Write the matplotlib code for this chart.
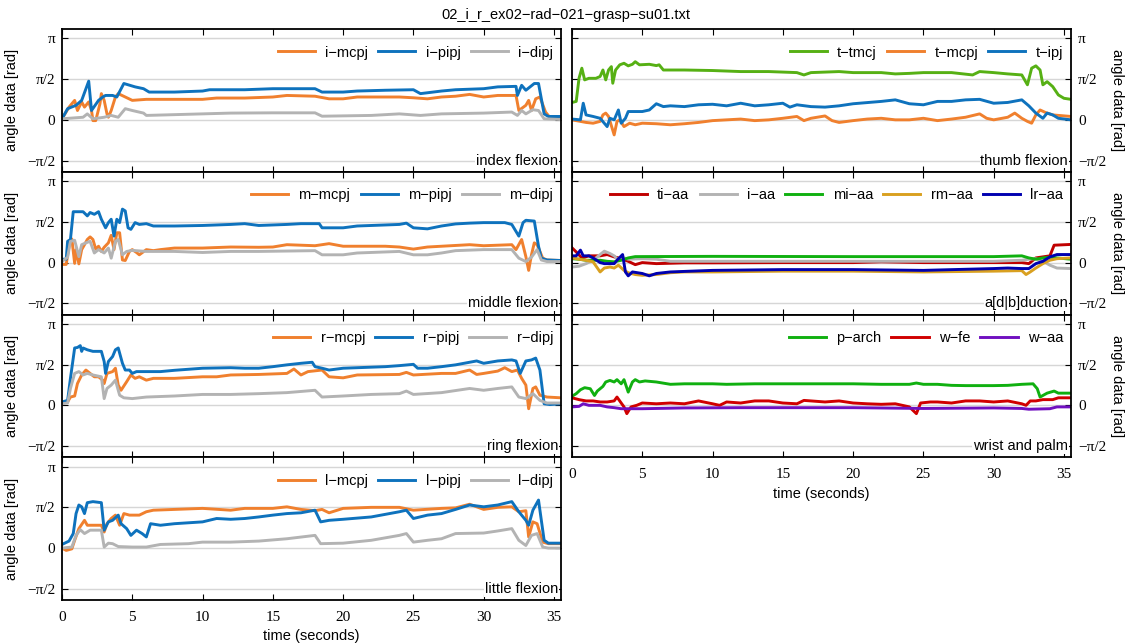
"""
Hand joint angles over time for one grasp recording, seven panels:
four finger flexion panels on the left, thumb / ab-adduction / wrist on the right.
"""

import numpy as np
import matplotlib
matplotlib.use("Agg")
import matplotlib.pyplot as plt
import matplotlib.transforms as mtransforms

TITLE = "02_i_r_ex02\u2212rad\u2212021\u2212grasp\u2212su01.txt"

# ---- index flexion -------------------------------------------------------
T_I_MCPJ = [0, 0.5, 0.9, 1.1, 1.4, 1.6, 1.9, 2.1, 2.2, 2.4, 2.7, 2.8, 3.0, 3.2, 3.3, 3.5, 3.8, 4.0, 4.5, 5, 6, 8,
            10, 11, 13, 15, 16, 18, 19, 20, 21, 24, 25, 26, 27, 28, 29, 30, 31, 32.3, 32.5, 33, 33.2, 33.4, 33.7,
            34, 34.4, 34.7, 35.5]
I_MCPJ = [0.04, 0.49, 0.75, 0.36, 0.69, 0.49, 0.69, 0.36, -0.03, -0.03, 0.62, 1.01, 0.75, 0.23, 0.10, 0.36, 0.88,
          1.01, 0.88, 0.75, 0.79, 0.79, 0.79, 0.84, 0.84, 0.88, 0.94, 0.91, 0.81, 0.81, 0.88, 0.88, 0.85, 0.81, 0.88,
          0.91, 0.98, 0.88, 0.94, 0.94, 0.36, 0.56, 0.75, 0.36, 0.81, 0.88, 0.30, 0.10, 0.10]
T_I_PIPJ = [0, 0.4, 1.0, 1.4, 1.9, 2.1, 2.6, 2.9, 3.1, 3.6, 3.9, 4.4, 5.2, 5.8, 6.2, 8, 10, 10.5, 13, 15, 18, 18.5,
            20, 21, 23, 25, 25.5, 27, 28, 30, 31, 32.3, 32.4, 32.7, 33, 33.6, 33.9, 34.3, 34.6, 35.5]
I_PIPJ = [0.04, 0.43, 0.56, 0.75, 1.49, 0.36, 0.75, 0.88, 0.94, 0.94, 0.88, 1.40, 1.27, 1.20, 1.07, 1.07, 1.11,
          1.16, 1.16, 1.20, 1.20, 1.07, 1.07, 1.11, 1.14, 1.16, 1.01, 1.11, 1.16, 1.20, 1.27, 1.29, 0.94, 1.33, 1.14,
          1.40, 1.40, 0.23, 0.13, 0.13]
T_I_DIPJ = [0, 1.5, 1.8, 2.2, 3, 3.5, 4, 4.5, 5, 5.8, 6, 10, 12, 15, 18, 18.5, 22, 24, 25.5, 27, 30, 32, 32.4, 32.7,
            33, 33.5, 33.9, 34.3, 35.5]
I_DIPJ = [0.04, 0.10, 0.23, 0.04, 0.10, 0.17, 0.10, 0.43, 0.36, 0.26, 0.17, 0.23, 0.26, 0.27, 0.27, 0.14, 0.17, 0.23,
          0.17, 0.23, 0.26, 0.30, 0.17, 0.36, 0.23, 0.39, 0.36, 0.04, 0.01]

# ---- middle flexion ------------------------------------------------------
T_M_MCPJ = [0, 0.3, 0.5, 0.7, 0.9, 1.0, 1.2, 1.4, 1.6, 1.8, 2.0, 2.2, 2.4, 2.6, 2.8, 3.0, 3.3, 3.5, 3.7, 3.9, 4.1,
            4.3, 4.5, 4.8, 5, 5.3, 5.5, 6, 6.5, 7, 8, 10, 12, 14, 15, 16, 18, 19, 20, 23, 24, 25, 26, 27, 29, 30, 32,
            32.3, 32.7, 33, 33.2, 33.4, 33.6, 33.8, 34.2, 34.5, 35.5]
M_MCPJ = [-0.07, -0.07, 0.63, 0.91, -0.03, 0.50, -0.05, 0.50, 0.69, 0.89, 0.99, 0.89, 0.52, 0.63, 0.43, 0.59, 0.76,
          1.05, 0.50, 1.15, 1.15, 0.10, 0.08, 0.43, 0.50, 0.39, 0.30, 0.50, 0.46, 0.50, 0.56, 0.56, 0.60, 0.59, 0.60,
          0.69, 0.65, 0.73, 0.63, 0.63, 0.60, 0.52, 0.60, 0.63, 0.69, 0.65, 0.69, 0.50, 0.89, 0.23, -0.30, 0.30,
          0.76, 0.69, 0.17, 0.10, 0.08]
T_M_PIPJ = [0, 0.3, 0.4, 0.6, 0.8, 1.5, 1.8, 2.0, 2.3, 2.6, 2.8, 3.1, 3.3, 3.5, 3.7, 3.9, 4.1, 4.3, 4.5, 4.7, 4.9,
            5.2, 5.5, 6, 6.5, 8, 10, 12, 13, 14, 16, 17, 18.3, 18.5, 20, 21, 24, 24.5, 25, 26, 27, 28, 29, 30, 31.5,
            32, 32.5, 32.8, 33, 33.6, 33.9, 34.1, 34.5, 35.5]
M_PIPJ = [0.13, 0.13, 0.82, 0.89, 1.96, 1.96, 1.80, 1.93, 1.86, 1.96, 1.67, 1.34, 1.54, 1.67, 1.02, 1.67, 1.54,
          2.06, 1.99, 1.34, 1.28, 1.54, 1.47, 1.50, 1.41, 1.41, 1.43, 1.47, 1.50, 1.43, 1.47, 1.50, 1.50, 1.34, 1.34,
          1.41, 1.47, 1.52, 1.34, 1.30, 1.41, 1.49, 1.52, 1.54, 1.54, 1.47, 1.02, 1.54, 1.63, 1.60, 0.63, 0.17, 0.10,
          0.08]
T_M_DIPJ = [0, 0.4, 0.6, 0.9, 1.2, 1.4, 1.7, 2, 2.3, 2.6, 3, 3.3, 3.5, 3.8, 4, 4.3, 4.6, 5, 6, 8, 10, 12, 14, 18,
            18.5, 20, 21, 24, 25, 26, 27, 28, 30, 32, 32.5, 33, 33.4, 33.8, 34.1, 34.5, 35.5]
M_DIPJ = [0.04, 0.21, 0.82, 0.86, 0.23, 0.69, 0.76, 0.82, 0.37, 0.50, 0.37, 0.56, 0.17, 0.82, 0.89, 0.30, 0.43, 0.47,
          0.43, 0.43, 0.39, 0.43, 0.43, 0.46, 0.30, 0.30, 0.37, 0.43, 0.30, 0.30, 0.37, 0.46, 0.50, 0.50, 0.17, 0.04,
          0.21, 0.50, 0.10, 0.04, 0.04]

# ---- ring flexion --------------------------------------------------------
T_R_MCPJ = [0, 0.4, 0.6, 0.9, 1.1, 1.4, 1.7, 2.0, 2.3, 2.6, 2.9, 3.0, 3.2, 3.6, 3.8, 4.0, 4.2, 4.6, 4.9, 5.2, 5.5,
            6, 6.5, 8, 10, 11, 12, 14, 16, 16.5, 17, 17.5, 18.5, 19, 20, 21, 24, 24.5, 25, 27, 28, 29, 29.5, 30, 31,
            31.5, 32, 32.4, 32.7, 33, 33.2, 33.5, 33.7, 34, 34.5, 35.5]
R_MCPJ = [0.09, 0.13, 0.32, 0.36, 0.84, 1.17, 1.36, 1.23, 1.10, 1.10, 0.97, 0.84, 1.23, 1.30, 1.43, 0.78, 0.58,
          0.91, 1.17, 1.04, 1.10, 0.97, 1.04, 1.04, 1.10, 1.10, 1.17, 1.19, 1.23, 1.40, 1.17, 1.30, 1.36, 1.10, 1.06,
          1.17, 1.19, 1.27, 1.17, 1.23, 1.23, 1.36, 1.19, 1.23, 1.32, 1.45, 1.30, 1.36, 1.04, 0.78, -0.13, 0.65,
          0.71, 0.39, 0.32, 0.29]
T_R_PIPJ = [0, 0.4, 0.6, 0.9, 1.1, 1.3, 1.4, 1.5, 1.8, 2.2, 2.8, 3.0, 3.1, 3.3, 3.6, 3.8, 4.0, 4.3, 4.5, 4.8, 5,
            5.3, 6, 7, 8, 10, 12, 13, 14, 15, 16, 17, 17.8, 18, 18.5, 19, 20, 21, 23, 24, 25, 25.3, 26, 27, 28, 29,
            29.5, 30, 31, 32, 32.3, 32.6, 33, 33.4, 33.7, 34, 34.3, 34.7, 35.5]
R_PIPJ = [0.13, 0.19, 1.04, 2.21, 2.23, 2.30, 2.08, 2.21, 2.14, 2.08, 2.08, 1.69, 1.23, 1.69, 1.88, 2.14, 2.21,
          1.62, 1.36, 1.36, 1.23, 1.30, 1.30, 1.30, 1.35, 1.43, 1.45, 1.43, 1.43, 1.49, 1.56, 1.62, 1.66, 1.49, 1.43,
          1.36, 1.43, 1.45, 1.49, 1.53, 1.58, 1.43, 1.43, 1.49, 1.56, 1.66, 1.71, 1.62, 1.71, 1.75, 1.71, 1.23,
          1.71, 1.75, 1.82, 1.36, 0.06, 0.03, 0.06]
T_R_DIPJ = [0, 0.4, 0.6, 0.9, 1.2, 1.5, 1.8, 2.2, 2.8, 3.0, 3.2, 3.5, 3.8, 4.1, 4.4, 5, 6, 8, 10, 12, 14, 16, 18,
            18.5, 20, 22, 24, 24.5, 25, 27, 29, 30, 31, 32, 32.5, 33, 33.5, 34, 34.5, 35.5]
R_DIPJ = [0.06, 0.09, 0.65, 1.23, 1.30, 1.17, 1.23, 1.17, 1.10, 0.26, 0.65, 0.78, 0.97, 0.39, 0.29, 0.26, 0.32,
          0.36, 0.42, 0.42, 0.45, 0.49, 0.58, 0.32, 0.36, 0.42, 0.45, 0.55, 0.42, 0.49, 0.65, 0.58, 0.65, 0.71, 0.32,
          0.26, 0.45, 0.19, 0.09, 0.09]

# ---- little flexion ------------------------------------------------------
T_L_MCPJ = [0, 0.3, 0.7, 0.9, 1.2, 1.6, 1.8, 2.2, 2.8, 3.0, 3.2, 3.5, 3.8, 4.1, 4.4, 4.8, 5.5, 6, 6.5, 8, 10, 12,
            13, 15, 16, 17, 18, 18.5, 19, 20, 22, 24, 25, 27, 28, 29, 30, 31, 32, 32.5, 33, 33.2, 33.5, 33.8, 34.2,
            34.6, 35.5]
L_MCPJ = [0, -0.09, -0.03, 0.30, 0.75, 1.07, 0.88, 0.88, 0.88, 0.62, 0.94, 1.14, 1.27, 0.88, 1.33, 1.27, 1.27, 1.40,
          1.46, 1.49, 1.53, 1.46, 1.53, 1.53, 1.59, 1.49, 1.44, 1.49, 1.36, 1.53, 1.57, 1.57, 1.46, 1.53, 1.55, 1.69,
          1.49, 1.57, 1.59, 1.40, 1.44, 0.43, 1.01, 0.94, 0.23, 0.17, 0.17]
T_L_PIPJ = [0, 0.5, 0.8, 1.0, 1.2, 1.4, 1.6, 1.8, 2.2, 2.8, 3.0, 3.3, 3.6, 4.0, 4.2, 4.6, 4.9, 5.3, 5.7, 6.0, 6.3,
            7, 8, 10, 11, 12, 13, 14, 15, 16, 17, 18, 18.4, 19, 20, 22, 24, 24.5, 25, 26, 27, 28, 29, 30, 31, 32,
            32.5, 33, 33.2, 33.5, 33.9, 34.3, 34.6, 35.5]
L_PIPJ = [0.14, 0.27, 0.56, 1.33, 1.66, 1.59, 1.33, 1.75, 1.79, 1.75, 0.69, 1.01, 1.07, 1.27, 0.94, 0.75, 0.49, 0.69,
          0.56, 0.43, 0.94, 0.88, 0.94, 1.01, 1.14, 1.11, 1.14, 1.20, 1.27, 1.33, 1.36, 1.46, 1.01, 1.07, 1.11, 1.20,
          1.40, 1.46, 1.14, 1.27, 1.33, 1.49, 1.66, 1.59, 1.66, 1.79, 1.40, 1.07, 0.88, 1.46, 1.85, 0.30, 0.19, 0.19]
T_L_DIPJ = [0, 0.7, 1.0, 1.3, 1.6, 2, 2.8, 3.0, 3.3, 3.6, 4, 5, 6, 7, 9, 10, 12, 14, 16, 18, 18.4, 20, 22, 24, 24.5,
            25, 26, 27, 28, 30, 31, 32, 32.5, 33, 33.4, 33.8, 34.2, 34.6, 35.5]
L_DIPJ = [0, 0.04, 0.49, 0.71, 0.56, 0.69, 0.69, 0.04, 0.19, 0.17, 0.06, 0.04, 0.04, 0.14, 0.17, 0.23, 0.23, 0.27,
          0.36, 0.49, 0.17, 0.19, 0.30, 0.49, 0.56, 0.23, 0.30, 0.36, 0.56, 0.58, 0.66, 0.75, 0.30, 0.10, 0.49, 0.56,
          0.04, 0, 0]

# ---- thumb flexion -------------------------------------------------------
T_T_TMCJ = [0, 0.3, 0.5, 0.7, 0.9, 1.2, 1.7, 2.0, 2.2, 2.4, 2.6, 2.8, 2.9, 3.1, 3.4, 3.7, 4.0, 4.3, 4.5, 4.8, 5.5,
            6.0, 6.2, 6.5, 8, 10, 12, 14, 16, 16.5, 17, 19, 20, 22, 23, 24, 25, 27, 28.5, 29, 30, 31, 32, 32.4, 32.7,
            33, 33.3, 33.5, 33.8, 34.2, 34.6, 35, 35.5]
T_TMCJ = [0.67, 0.71, 1.60, 1.99, 1.54, 1.60, 1.60, 1.67, 1.92, 1.54, 1.92, 2.05, 1.41, 1.92, 2.12, 2.18, 2.08,
          2.14, 2.24, 2.12, 2.14, 2.09, 2.12, 1.92, 1.92, 1.90, 1.86, 1.86, 1.82, 1.73, 1.82, 1.86, 1.82, 1.82, 1.77,
          1.79, 1.82, 1.82, 1.73, 1.86, 1.82, 1.77, 1.73, 1.35, 1.99, 2.08, 1.92, 1.35, 1.47, 1.28, 0.96, 0.83, 0.79]
T_T_MCPJ = [0, 1, 1.5, 2, 2.2, 2.4, 2.6, 3.0, 3.2, 3.4, 3.7, 4.1, 4.5, 5, 6, 7, 8, 9, 10, 11, 12, 13, 14, 15, 16,
            16.5, 17, 18, 18.5, 19, 20, 21, 22, 23, 24, 25, 26, 27, 28, 29, 29.5, 30, 31, 31.5, 32, 32.4, 32.7, 33.0,
            33.3, 33.7, 34.2, 35.5]
T_MCPJ = [0, -0.10, -0.13, -0.06, 0.19, 0.26, 0.13, -0.58, -0.06, 0, -0.26, -0.13, -0.19, -0.13, -0.15, -0.19, -0.15,
          -0.10, -0.03, 0, 0.03, -0.03, 0, 0.06, 0.13, -0.03, 0.06, 0.15, -0.03, -0.10, -0.03, 0.03, 0.06, 0, 0,
          0.06, -0.03, 0.03, 0.10, 0.23, 0.06, 0, 0.10, 0.26, 0.06, -0.06, -0.13, 0.19, 0.38, 0.28, 0.19, 0.13]
T_T_IPJ = [0, 0.6, 0.8, 1.0, 1.5, 2.0, 2.5, 2.7, 3.0, 3.3, 3.5, 3.8, 4.0, 5, 5.5, 6, 6.5, 7, 8, 9, 10, 11, 12, 13,
           14, 15, 15.5, 16, 17, 18, 19, 20, 22, 23, 24, 25, 26, 27, 28, 29, 30, 31, 32, 32.5, 33, 33.5, 33.8, 34.2,
           34.6, 35.5]
T_IPJ = [0.03, 0, 0.64, 0.19, 0.13, 0.06, -0.26, 0.06, 0, 0.38, -0.13, 0.06, 0.32, 0.32, 0.38, 0.62, 0.51, 0.54,
         0.51, 0.58, 0.60, 0.54, 0.64, 0.54, 0.58, 0.64, 0.49, 0.58, 0.51, 0.49, 0.54, 0.62, 0.71, 0.77, 0.62, 0.58,
         0.71, 0.71, 0.77, 0.79, 0.64, 0.67, 0.77, 0.54, 0.26, 0.06, 0.26, 0.19, 0.06, 0]

# ---- a[d|b]duction -------------------------------------------------------
T_TI_AA = [0, 0.3, 0.7, 1.2, 2.0, 2.5, 3.0, 3.5, 4, 4.5, 5, 6, 8, 10, 15, 20, 22, 25, 30, 32, 32.5, 33, 33.5, 34,
           34.3, 35.5]
TI_AA = [0.57, 0.41, 0.18, 0.26, 0.26, 0.31, 0.22, 0.15, 0.05, -0.08, 0, -0.04, -0.01, -0.01, 0, 0, 0.03, 0, 0, 0,
         -0.04, 0.18, 0.22, 0.26, 0.67, 0.70]
T_I_AA = [0, 0.5, 1, 1.5, 2.0, 2.3, 2.7, 3, 3.3, 3.7, 4, 5, 6, 7, 10, 15, 20, 25, 30, 32, 32.5, 33, 33.5, 34, 34.5,
          35.5]
I_AA = [-0.17, -0.14, -0.04, 0.09, 0.31, 0.44, 0.35, 0.26, 0.09, 0.18, 0.13, 0.15, 0.13, 0.05, 0.05, 0.05, 0.05,
        0.05, 0.05, 0.09, 0.13, 0.15, 0.05, -0.10, -0.21, -0.23]
T_MI_AA = [0, 0.5, 1, 2, 2.5, 3, 3.5, 4, 4.5, 10, 20, 30, 32, 32.5, 33, 33.5, 34, 34.5, 35.5]
MI_AA = [0.15, 0.13, 0.09, 0.09, 0.05, 0.03, 0.09, 0.18, 0.23, 0.24, 0.23, 0.23, 0.26, 0.18, 0.13, 0.18, 0.21, 0.18,
         0.13]
T_RM_AA = [0, 0.5, 1, 1.5, 2.0, 2.3, 2.7, 3.0, 3.3, 3.7, 4.0, 4.5, 5, 6, 7, 8, 10, 15, 20, 25, 30, 32, 32.3, 32.6,
           33, 33.5, 34, 34.5, 35.5]
RM_AA = [0.18, 0.13, 0.09, 0.03, -0.36, -0.21, -0.17, -0.21, -0.10, -0.30, -0.39, -0.46, -0.49, -0.46, -0.39, -0.36,
         -0.36, -0.33, -0.33, -0.36, -0.33, -0.31, -0.46, -0.36, -0.21, -0.04, 0.09, 0.15, 0.18]
T_LR_AA = [0, 0.3, 0.6, 0.8, 1.2, 1.5, 2, 2.3, 3, 3.2, 3.6, 3.8, 4.0, 4.3, 5, 5.5, 6, 7, 10, 15, 20, 25, 30, 31, 32,
           32.5, 33, 33.5, 34, 34.5, 35.5]
LR_AA = [0.26, 0.26, 0.48, 0.26, 0.26, 0.18, 0, -0.04, -0.04, 0.09, 0.31, -0.36, -0.51, -0.36, -0.42, -0.51, -0.42,
         -0.36, -0.30, -0.27, -0.27, -0.30, -0.23, -0.21, -0.23, -0.23, -0.04, 0.05, 0.22, 0.31, 0.31]

# ---- wrist and palm ------------------------------------------------------
T_P_ARCH = [0, 0.3, 0.6, 0.9, 1.3, 1.6, 1.8, 2.2, 2.4, 2.7, 3.0, 3.2, 3.5, 3.7, 4.0, 4.3, 4.5, 4.8, 5.2, 6.0, 7, 8,
            10, 11, 13, 15, 16, 18, 20, 22, 24, 24.5, 25, 26, 27, 28, 30, 31, 32, 32.8, 33.1, 33.3, 33.8, 34.3, 34.6,
            35.5]
P_ARCH = [0.35, 0.45, 0.60, 0.68, 0.64, 0.38, 0.55, 0.73, 0.90, 0.96, 0.90, 0.99, 0.83, 0.99, 0.51, 0.90, 0.99, 0.90,
          0.94, 0.90, 0.81, 0.83, 0.83, 0.81, 0.83, 0.83, 0.83, 0.83, 0.83, 0.81, 0.81, 0.86, 0.81, 0.81, 0.77, 0.76,
          0.76, 0.77, 0.81, 0.83, 0.64, 0.32, 0.47, 0.55, 0.47, 0.47]
T_W_FE = [0, 0.5, 1, 1.5, 2.0, 2.5, 3.0, 3.2, 3.5, 3.7, 3.9, 4.2, 4.6, 5, 6, 7, 8, 9, 10, 10.5, 11, 12, 13, 14, 15,
          16, 16.5, 17, 18, 19, 20, 21, 22, 23, 24, 24.5, 24.8, 25.5, 26, 27, 28, 29, 30, 31, 32, 32.3, 32.6, 33,
          33.5, 34.2, 34.6, 35.5]
W_FE = [0.29, 0.22, 0.17, 0.17, 0.13, 0.13, 0.17, 0.32, 0.09, -0.06, -0.32, -0.06, 0, 0.09, 0.06, 0.09, 0.06, 0.17,
        0.06, 0, 0.13, 0.09, 0.17, 0.17, 0.09, 0.06, 0.19, 0.17, 0.13, 0.17, 0.09, 0.06, 0.04, 0.06, -0.06, -0.32,
        0.09, 0.13, 0.13, 0.09, 0.17, 0.17, 0.13, 0.17, 0.06, 0, 0.17, 0.17, 0.22, 0.22, 0.29, 0.29]
T_W_AA = [0, 0.5, 0.8, 1.2, 2, 2.5, 3, 3.5, 5, 8, 12, 20, 25, 30, 32, 32.5, 34, 34.5, 35.5]
W_AA = [-0.06, -0.04, 0.06, 0, 0, -0.06, -0.09, -0.13, -0.13, -0.10, -0.09, -0.09, -0.12, -0.10, -0.12, -0.15,
        -0.13, -0.06, -0.06]

ORANGE = "#f0802e"
BLUE = "#0e72bd"
GREY = "#b3b3b3"

# (column, row, caption, [(label, t, values, colour), ...])
PANELS = [
    (0, 0, "index flexion", [("i\u2212mcpj", T_I_MCPJ, I_MCPJ, ORANGE),
                             ("i\u2212pipj", T_I_PIPJ, I_PIPJ, BLUE),
                             ("i\u2212dipj", T_I_DIPJ, I_DIPJ, GREY)]),
    (0, 1, "middle flexion", [("m\u2212mcpj", T_M_MCPJ, M_MCPJ, ORANGE),
                              ("m\u2212pipj", T_M_PIPJ, M_PIPJ, BLUE),
                              ("m\u2212dipj", T_M_DIPJ, M_DIPJ, GREY)]),
    (0, 2, "ring flexion", [("r\u2212mcpj", T_R_MCPJ, R_MCPJ, ORANGE),
                            ("r\u2212pipj", T_R_PIPJ, R_PIPJ, BLUE),
                            ("r\u2212dipj", T_R_DIPJ, R_DIPJ, GREY)]),
    (0, 3, "little flexion", [("l\u2212mcpj", T_L_MCPJ, L_MCPJ, ORANGE),
                              ("l\u2212pipj", T_L_PIPJ, L_PIPJ, BLUE),
                              ("l\u2212dipj", T_L_DIPJ, L_DIPJ, GREY)]),
    (1, 0, "thumb flexion", [("t\u2212tmcj", T_T_TMCJ, T_TMCJ, "#56b014"),
                             ("t\u2212mcpj", T_T_MCPJ, T_MCPJ, ORANGE),
                             ("t\u2212ipj", T_T_IPJ, T_IPJ, BLUE)]),
    (1, 1, "a[d|b]duction", [("ti\u2212aa", T_TI_AA, TI_AA, "#c00000"),
                             ("i\u2212aa", T_I_AA, I_AA, GREY),
                             ("mi\u2212aa", T_MI_AA, MI_AA, "#10b010"),
                             ("rm\u2212aa", T_RM_AA, RM_AA, "#d9a020"),
                             ("lr\u2212aa", T_LR_AA, LR_AA, "#0000b0")]),
    (1, 2, "wrist and palm", [("p\u2212arch", T_P_ARCH, P_ARCH, "#10b010"),
                              ("w\u2212fe", T_W_FE, W_FE, "#d00000"),
                              ("w\u2212aa", T_W_AA, W_AA, "#7010c0")]),
]

YTICKS = [-np.pi / 2, 0, np.pi / 2, np.pi]
YTICKLABELS = ["\u2212\u03c0/2", "0", "\u03c0/2", "\u03c0"]
XTICKS = [0, 5, 10, 15, 20, 25, 30, 35]

SANS = "Liberation Sans"
SERIF = "Liberation Serif"

W, H = 1128, 644
COL_X = [62, 572]
AX_W = 499
TOP = 29
ROW_H = 142.75

fig = plt.figure(figsize=(W / 100, H / 100), dpi=100)
fig.text(566 / W, 1 - 15 / H, TITLE, ha="center", va="center", fontsize=10.5, family=SANS)

for col, row, caption, series in PANELS:
    rect = [COL_X[col] / W, 1 - (TOP + (row + 1) * ROW_H) / H, AX_W / W, ROW_H / H]
    ax = fig.add_axes(rect)
    for label, t, v, colour in series:
        ax.plot(t, v, color=colour, linewidth=2.1, label=label, solid_joinstyle="round")

    ax.set_xlim(0, 35.5)
    ax.set_ylim(-2.0, 3.5)
    ax.set_yticks(YTICKS)
    ax.set_yticklabels(YTICKLABELS)
    ax.set_xticks(XTICKS)
    ax.set_axisbelow(True)
    ax.grid(axis="y", color="#d6d6d6", linewidth=1.0)
    for sp in ax.spines.values():
        sp.set_linewidth(1.3)

    last = (col == 0 and row == 3) or (col == 1 and row == 2)
    ax.set_ylabel("angle data [rad]", fontsize=10.5, family=SANS)
    if col == 1:
        ax.yaxis.tick_right()
        ax.yaxis.set_label_position("right")
        ax.yaxis.label.set_rotation(-90)
        ax.yaxis.label.set_va("center")
        ax.yaxis.set_label_coords(1.092, 0.5)
    else:
        ax.yaxis.set_label_coords(-0.087, 0.5)

    ax.tick_params(axis="x", direction="in", length=4, width=0.8, top=True, bottom=True,
                   labelsize=11, pad=8, labelbottom=last)
    ax.tick_params(axis="y", direction="in", length=4, width=0.8, left=True, right=True,
                   labelsize=11, pad=5)
    for tick in ax.xaxis.get_major_ticks() + ax.yaxis.get_major_ticks():
        tick.label1.set_family(SERIF)
        tick.label2.set_family(SERIF)

    if last:
        ax.set_xlabel("time (seconds)", fontsize=10.5, family=SANS)
        ax.xaxis.set_label_coords(0.5, -0.205)

    leg = ax.legend(loc="upper right", bbox_to_anchor=(0.993, 0.915), ncol=len(series),
                    frameon=False, prop={"family": SANS, "size": 10.5}, handlelength=2.55,
                    handletextpad=0.7, columnspacing=0.7, borderaxespad=0.0,
                    borderpad=0.3)
    for h in leg.get_lines():
        h.set_linewidth(2.1)

    trans = mtransforms.blended_transform_factory(ax.transAxes, ax.transData)
    ax.text(0.994, -np.pi / 2, caption, transform=trans, ha="right", va="center",
            fontsize=10.5, family=SANS,
            bbox=dict(facecolor="white", edgecolor="none", pad=0.5))

fig.savefig("out.png", dpi=100, facecolor="white")
